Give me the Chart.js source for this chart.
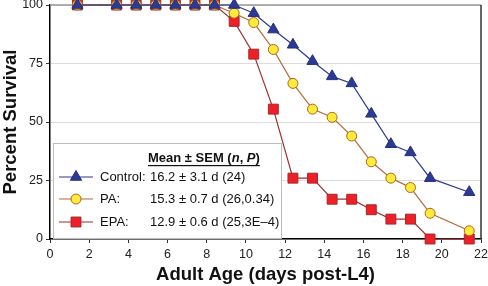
<!DOCTYPE html>
<html>
<head>
<meta charset="utf-8">
<script src="https://cdn.jsdelivr.net/npm/chart.js@4/dist/chart.umd.min.js"></script>
<style>
  html, body { margin: 0; padding: 0; background: #fff; }
  .chart { position: relative; width: 488px; height: 286px; }
</style>
</head>
<body>
<div class="chart"><canvas id="survival"></canvas></div>
<script>
// days post-L4 where survival was scored
const days = [1.4, 3.4, 4.4, 5.4, 6.4, 7.4, 8.4, 9.4, 10.4, 11.4, 12.4, 13.4, 14.4, 15.4, 16.4, 17.4, 18.4, 19.4, 21.4];

// percent survival per group
const controlSurvival = [100, 100, 100, 100, 100, 100, 100, 100, 96.5, 89.5, 83, 76, 69.5, 66.5, 53.5, 40.5, 37, 26, 20];
const paSurvival = [100, 100, 100, 100, 100, 100, 100, 96.5, 92.5, 81, 66.5, 55.5, 52, 44, 33, 26, 22, 11, 3.5];
const epaSurvival = [100, 100, 100, 100, 100, 100, 100, 93, 79, 55.5, 26, 26, 17, 17, 12.5, 8.5, 8.5, 0, 0];

const xTicks = [0, 2, 4, 6, 8, 10, 12, 14, 16, 18, 20, 22];
const yTicks = [0, 25, 50, 75, 100];

// legend text
const legendNames = ["Control:", "PA:", "EPA:"];
const legendStats = ["16.2 ± 3.1 d (24)", "15.3 ± 0.7 d (26,0.34)", "12.9 ± 0.6 d (25,3E–4)"];

const toPoints = (vals) => vals.map((v, i) => ({ x: days[i], y: v }));

const styles = [
  { line: "#2b3a8f", fill: "#2b3a94", border: "#25307a", shape: "triangle", r: 6.5 },
  { line: "#b5683a", fill: "#ffec3a", border: "#b0641c", shape: "circle", r: 5 },
  { line: "#9b2f2f", fill: "#ee1f26", border: "#a3282a", shape: "rect", r: 7 },
];

const datasets = [controlSurvival, paSurvival, epaSurvival].map((vals, i) => ({
  label: legendNames[i],
  data: toPoints(vals),
  borderColor: styles[i].line,
  borderWidth: 1.2,
  pointStyle: styles[i].shape,
  pointRadius: styles[i].r,
  pointBackgroundColor: styles[i].fill,
  pointBorderColor: styles[i].border,
  pointBorderWidth: 1,
  tension: 0,
  fill: false,
  clip: false,
}));

const fontFamily = "'Liberation Sans', Arial, sans-serif";

// frame on top/right and the stats box in the lower left
const framePlugin = {
  id: "frame",
  beforeDatasetsDraw: (chart) => {
    const ctx = chart.ctx;
    const a = chart.chartArea;
    ctx.save();
    ctx.lineWidth = 1.5;
    ctx.strokeStyle = "#999";
    ctx.beginPath();
    ctx.moveTo(a.left, a.top);
    ctx.lineTo(a.right, a.top);
    ctx.stroke();
    ctx.strokeStyle = "#333";
    ctx.beginPath();
    ctx.moveTo(a.right, a.top);
    ctx.lineTo(a.right, a.bottom);
    ctx.stroke();

    // legend box
    const bx = 53, by = 143, bw = 228, bh = 95;
    ctx.fillStyle = "#fff";
    ctx.fillRect(bx, by, bw, bh);
    ctx.strokeStyle = "#bdbdbd";
    ctx.lineWidth = 1;
    ctx.strokeRect(bx + 0.5, by + 0.5, bw, bh);

    ctx.fillStyle = "#111";
    ctx.textBaseline = "middle";
    let hx = 148;
    const hy = 158;
    const parts = [["Mean ± SEM (", "bold"], ["n", "italic bold"], [", ", "bold"], ["P", "italic bold"], [")", "bold"]];
    parts.forEach(([t, w]) => {
      ctx.font = w + " 13px " + fontFamily;
      ctx.fillText(t, hx, hy);
      hx += ctx.measureText(t).width;
    });
    ctx.fillRect(148, hy + 7, hx - 148, 1.2);

    const rowsY = [177, 199, 222];
    rowsY.forEach((ry, i) => {
      const s = styles[i];
      ctx.strokeStyle = s.line;
      ctx.lineWidth = 1.2;
      ctx.beginPath();
      ctx.moveTo(59, ry);
      ctx.lineTo(93, ry);
      ctx.stroke();
      ctx.fillStyle = s.fill;
      ctx.strokeStyle = s.border;
      ctx.lineWidth = 1;
      Chart.helpers.drawPoint(ctx, { pointStyle: s.shape, radius: s.r, rotation: 0, borderWidth: 1 }, 76, ry);
      ctx.fillStyle = "#111";
      ctx.font = "13px " + fontFamily;
      ctx.fillText(legendNames[i], 100, ry);
      ctx.fillText(legendStats[i], 150, ry);
    });
    ctx.restore();
  },
};

new Chart(document.getElementById("survival").getContext("2d"), {
  type: "line",
  data: { datasets },
  options: {
    responsive: true,
    maintainAspectRatio: false,
    animation: false,
    layout: { autoPadding: false, padding: { left: 0, right: 7, top: 5, bottom: 0 } },
    plugins: {
      legend: { display: false },
      tooltip: { enabled: false },
    },
    scales: {
      x: {
        type: "linear",
        min: 0,
        max: 22,
        afterFit: (scale) => {
          scale.height = 47;
          scale.paddingLeft = 0;
          scale.paddingRight = 0;
        },
        afterBuildTicks: (scale) => { scale.ticks = xTicks.map((v) => ({ value: v })); },
        ticks: { color: "#222", font: { family: fontFamily, size: 12.5 }, padding: 4 },
        grid: { drawOnChartArea: false, tickLength: 4, tickColor: "#333" },
        border: { color: "#000", width: 1.5 },
        title: {
          display: true,
          text: "Adult Age (days post-L4)",
          color: "#111",
          font: { family: fontFamily, size: 18.5, weight: "bold" },
          padding: { top: 0, bottom: 0 },
        },
      },
      y: {
        min: 0,
        max: 100,
        afterFit: (scale) => {
          scale.width = 50;
          scale.paddingTop = 0;
          scale.paddingBottom = 0;
        },
        afterBuildTicks: (scale) => { scale.ticks = yTicks.map((v) => ({ value: v })); },
        ticks: { color: "#222", font: { family: fontFamily, size: 12.5 }, padding: 3 },
        grid: { color: "#dcdcdc", tickColor: "#333", tickLength: 4 },
        border: { color: "#000", width: 1.5 },
        title: {
          display: true,
          text: "Percent Survival",
          color: "#111",
          font: { family: fontFamily, size: 18.5, weight: "bold" },
          padding: { top: 0, bottom: 0 },
        },
      },
    },
  },
  plugins: [framePlugin],
});
</script>
</body>
</html>
